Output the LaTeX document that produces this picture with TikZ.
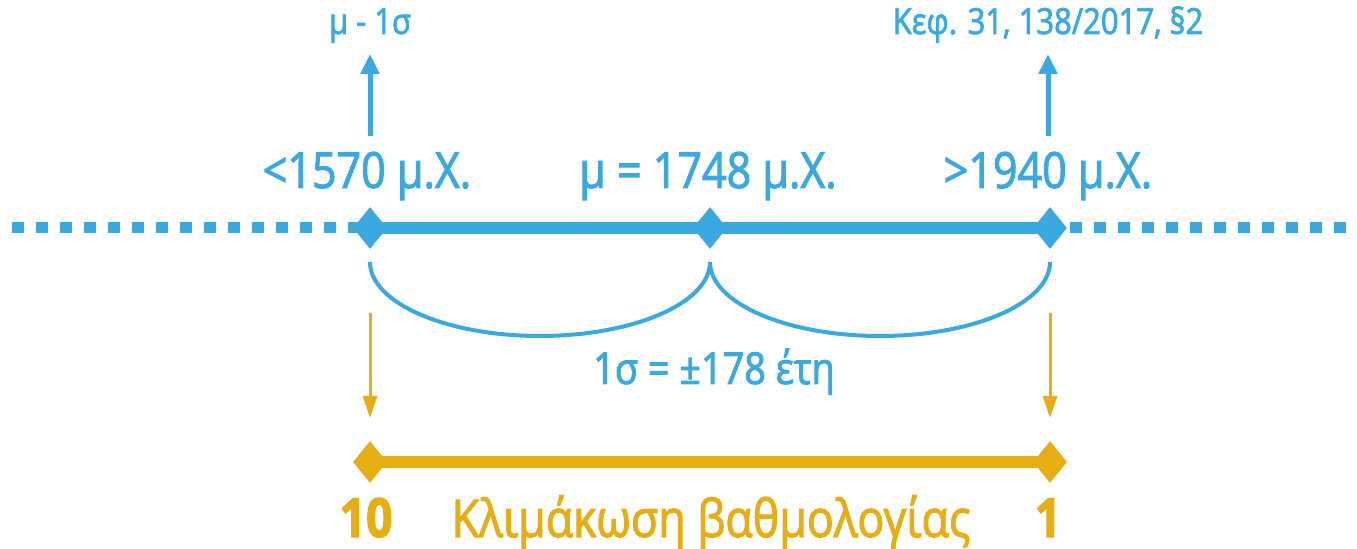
\documentclass[tikz,border=0pt]{standalone}
\usepackage{fontspec}
\setmainfont[FakeStretch=0.86,FakeBold=2]{Open Sans}
\usetikzlibrary{shapes.geometric,arrows.meta}
\definecolor{sky}{RGB}{57,169,224}
\definecolor{gold}{RGB}{230,174,19}
\tikzset{
  dmd/.style={diamond,fill=#1,inner sep=0pt,minimum width=17pt,minimum height=21pt},
  bigtxt/.style={text=sky,font=\fontsize{25}{30}\selectfont,inner sep=0pt,anchor=base},
  smalltxt/.style={text=sky,font=\fontsize{18}{22}\selectfont,inner sep=0pt,anchor=base},
  uparrow/.style={draw=sky,line width=2.5pt,-{Triangle[length=10pt,width=9pt]}},
  downarrow/.style={draw=gold,line width=1.5pt,-{Triangle[length=11pt,width=7pt]}},
  dotline/.style={draw=sky,line width=5.5pt,dash pattern=on 6pt off 6pt},
  brace/.style={draw=sky,line width=2pt}
}
\begin{document}
\begin{tikzpicture}[x=0.5pt,y=-0.5pt]
\useasboundingbox (0,0) rectangle (1357,549);
% main axis
\coordinate (dl0) at (12,228);
\coordinate (dr0) at (1070,228);
\coordinate (dr1) at (1352,228);
\coordinate (p1) at (370,228);
\coordinate (p2) at (710,228);
\coordinate (p3) at (1050,228);
\draw[dotline] (dl0) -- (p1);
\draw[dotline] (dr0) -- (dr1);
\draw[sky,line width=6pt] (p1) -- (p2) -- (p3);
\node[dmd=sky] (d1) at (p1) {};
\node[dmd=sky] (d2) at (p2) {};
\node[dmd=sky] (d3) at (p3) {};
% labels above
\node[bigtxt] (t1) at (367,188) {<1570 μ.Χ.};
\node[bigtxt] (t2) at (708,188) {μ = 1748 μ.Χ.};
\node[bigtxt] (t3) at (1048,188) {>1940 μ.Χ.};
\node[smalltxt] (s1) at (370,34) {μ - 1σ};
\node[smalltxt] (s2) at (1048,34) {Κεφ. 31, 138/2017, §2};
\coordinate (a1) at (370,136);
\coordinate (a3) at (1048,136);
\coordinate (e1) at (370,54);
\coordinate (e3) at (1048,54);
\draw[uparrow] (a1) -- (e1);
\draw[uparrow] (a3) -- (e3);
% braces
\coordinate (b1) at (370,262);
\coordinate (b2) at (710,262);
\coordinate (b3) at (1050,262);
\draw[brace] (b1) arc[start angle=180,end angle=360,x radius=85pt,y radius=37pt];
\draw[brace] (b2) arc[start angle=180,end angle=360,x radius=85pt,y radius=37pt];
\node[text=sky,font=\fontsize{22}{26}\selectfont,inner sep=0pt,anchor=base] (sig) at (714,384) {1σ = ±178 έτη};
% gold part
\coordinate (g1) at (370,313);
\coordinate (g2) at (1050,313);
\coordinate (h1) at (370,418);
\coordinate (h2) at (1050,418);
\draw[downarrow] (g1) -- (h1);
\draw[downarrow] (g2) -- (h2);
\coordinate (q1) at (370,462);
\coordinate (q2) at (1050,462);
\draw[gold,line width=6pt] (q1) -- (q2);
\node[dmd=gold] (y1) at (q1) {};
\node[dmd=gold] (y2) at (q2) {};
\node[text=gold,font=\fontsize{27}{32}\selectfont\bfseries,inner sep=0pt,anchor=base] (n10) at (366,537) {10};
\node[text=gold,font=\fontsize{27}{32}\selectfont\bfseries,inner sep=0pt,anchor=base] (n1) at (1048,537) {1};
\node[text=gold,font=\fontsize{26}{31}\selectfont,inner sep=0pt,anchor=base] (klim) at (711,537) {Κλιμάκωση βαθμολογίας};
\end{tikzpicture}
\end{document}
